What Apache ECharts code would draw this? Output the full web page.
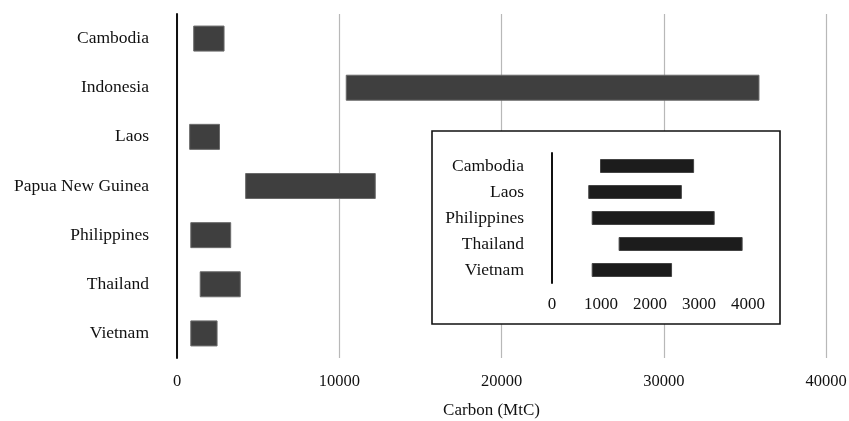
<!DOCTYPE html>
<html>
<head>
<meta charset="utf-8">
<script src="https://cdn.jsdelivr.net/npm/echarts@6/dist/echarts.min.js"></script>
<style>
	html, body { margin: 0; padding: 0; background: #fff; }
	#chart { width: 849px; height: 421px; }
</style>
</head>
<body>
<div id="chart"></div>
<script>
// main chart: carbon range per country (MtC)
const countries = ['Cambodia', 'Indonesia', 'Laos', 'Papua New Guinea', 'Philippines', 'Thailand', 'Vietnam'];
const carbonLow = [1000, 10400, 750, 4200, 820, 1400, 820];
const carbonHigh = [2930, 35900, 2650, 12250, 3340, 3930, 2500];
const mainTicks = [0, 10000, 20000, 30000, 40000];

// inset: the small countries zoomed in
const insetCountries = ['Cambodia', 'Laos', 'Philippines', 'Thailand', 'Vietnam'];
const insetLow = [980, 740, 810, 1360, 810];
const insetHigh = [2900, 2650, 3320, 3890, 2450];
const insetTicks = [0, 1000, 2000, 3000, 4000];

const serif = '"Liberation Serif", "DejaVu Serif", serif';
const ink = '#111';

const span = (lo, hi) => hi.map((v, i) => v - lo[i]);
// plain numbers, no thousands separator
const plain = v => String(v);

const chart = echarts.init(document.getElementById('chart'));
chart.setOption({
	backgroundColor: '#fff',
	animation: false,
	grid: [
		{ left: 177, right: 23, top: 14, bottom: 63, outerBoundsMode: 'none' },
		{ left: 552, right: 101, top: 153, bottom: 138, outerBoundsMode: 'none' }
	],
	xAxis: [
		{
			type: 'value',
			gridIndex: 0,
			min: mainTicks[0],
			max: mainTicks[mainTicks.length - 1],
			interval: 10000,
			name: 'Carbon (MtC)',
			nameLocation: 'middle',
			nameGap: 44,
			nameTextStyle: { fontFamily: serif, fontSize: 17, color: ink, padding: [0, 20, 0, 0] },
			axisLine: { show: false },
			axisTick: { show: false },
			axisLabel: { fontFamily: serif, fontSize: 16.5, color: ink, margin: 15, formatter: plain },
			splitLine: { show: true, lineStyle: { color: '#b8b8b8', width: 1.2 } }
		},
		{
			type: 'value',
			gridIndex: 1,
			min: insetTicks[0],
			max: insetTicks[insetTicks.length - 1],
			interval: 1000,
			z: 20,
			axisLine: { show: false },
			axisTick: { show: false },
			axisLabel: { fontFamily: serif, fontSize: 17, color: ink, margin: 13, formatter: plain },
			splitLine: { show: false }
		}
	],
	yAxis: [
		{
			type: 'category',
			gridIndex: 0,
			data: countries,
			inverse: true,
			axisLine: { show: true, lineStyle: { color: ink, width: 2 } },
			axisTick: { show: false },
			axisLabel: { fontFamily: serif, fontSize: 17.5, color: ink, margin: 28 }
		},
		{
			type: 'category',
			gridIndex: 1,
			data: insetCountries,
			inverse: true,
			z: 20,
			axisLine: { show: true, lineStyle: { color: ink, width: 2 } },
			axisTick: { show: false },
			axisLabel: { fontFamily: serif, fontSize: 17.5, color: ink, margin: 28 }
		}
	],
	graphic: [
		{
			type: 'rect',
			z: 5,
			shape: { x: 432, y: 131, width: 348, height: 193 },
			style: { fill: '#fff', stroke: ink, lineWidth: 1.6 }
		}
	],
	series: [
		{
			type: 'bar',
			xAxisIndex: 0,
			yAxisIndex: 0,
			stack: 'main',
			data: carbonLow,
			barWidth: 26,
			itemStyle: { color: 'transparent' },
			silent: true
		},
		{
			type: 'bar',
			xAxisIndex: 0,
			yAxisIndex: 0,
			stack: 'main',
			data: span(carbonLow, carbonHigh),
			barWidth: 26,
			itemStyle: { color: '#3f3f3f', borderColor: '#6a6a6a', borderWidth: 1 }
		},
		{
			type: 'bar',
			xAxisIndex: 1,
			yAxisIndex: 1,
			stack: 'inset',
			z: 20,
			data: insetLow,
			barWidth: 14,
			itemStyle: { color: 'transparent' },
			silent: true
		},
		{
			type: 'bar',
			xAxisIndex: 1,
			yAxisIndex: 1,
			stack: 'inset',
			z: 20,
			data: span(insetLow, insetHigh),
			barWidth: 14,
			itemStyle: { color: '#1c1c1c', borderColor: '#444', borderWidth: 1 }
		}
	]
});
</script>
</body>
</html>
